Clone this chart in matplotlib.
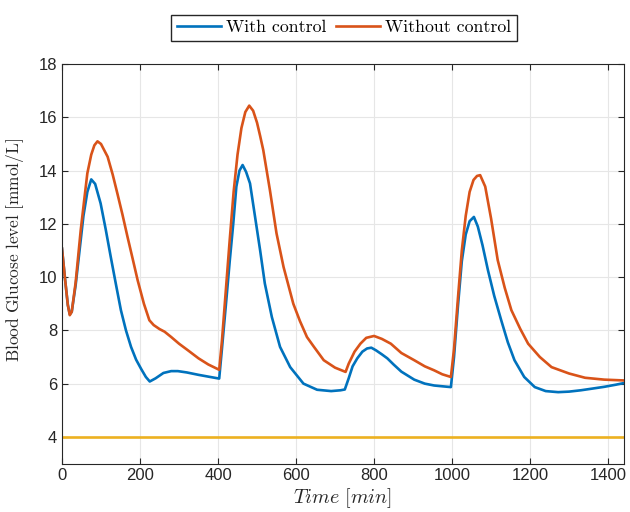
import matplotlib
matplotlib.use("Agg")
import matplotlib.pyplot as plt

plt.rcParams['mathtext.fontset'] = 'cm'
plt.rcParams['font.family'] = ['Liberation Sans', 'DejaVu Sans']
plt.rcParams['font.serif'] = ['cmr10']

# time [min] and glucose [mmol/L]
t_ctrl = [0, 8, 15, 20, 25, 35, 45, 55, 65, 75, 85, 99, 112, 125, 138, 151, 164,
          177, 190, 203, 215, 225, 240, 260, 280, 297, 320, 350, 380, 403,
          410, 422, 430, 439, 447, 455, 463, 472, 482, 495, 508, 520, 538, 559,
          585, 619, 654, 690, 714, 725,
          735, 745, 757, 770, 782, 793, 805, 820, 834, 850, 870, 903, 930, 954,
          975, 997,
          1005, 1015, 1025, 1035, 1045, 1056, 1066, 1078, 1092, 1108, 1126, 1143,
          1160, 1185, 1212, 1240, 1272, 1300, 1330, 1358, 1390, 1420, 1440]
g_ctrl = [11.07, 9.9, 8.95, 8.6, 8.7, 9.7, 11.0, 12.3, 13.2, 13.67, 13.5, 12.77,
          11.8, 10.76, 9.75, 8.76, 8.0, 7.38, 6.9, 6.55, 6.25, 6.08, 6.2, 6.4,
          6.47, 6.47, 6.42, 6.33, 6.25, 6.19,
          7.3, 9.26, 10.6, 12.0, 13.4, 14.0, 14.21, 13.95, 13.52, 12.26, 11.0,
          9.76, 8.5, 7.38, 6.62, 6.0, 5.77, 5.72, 5.75, 5.78,
          6.2, 6.65, 6.95, 7.2, 7.32, 7.35, 7.25, 7.1, 6.95, 6.72, 6.45, 6.15,
          6.0, 5.93, 5.9, 5.87,
          7.0, 8.9, 10.6, 11.6, 12.1, 12.26, 11.9, 11.2, 10.26, 9.3, 8.38, 7.55,
          6.88, 6.25, 5.87, 5.72, 5.68, 5.7, 5.75, 5.81, 5.88, 5.96, 6.02]

t_open = [0, 8, 15, 20, 25, 35, 48, 57, 65, 75, 83, 91, 100, 117, 130, 142, 155,
          168, 181, 194, 210, 224, 235, 250, 263, 280, 300, 323, 350, 375, 403,
          410, 420, 430, 440, 450, 460, 470, 480, 490, 500, 508, 516, 533, 550,
          568, 593, 610, 628, 645, 671, 700, 727,
          735, 750, 765, 780, 800, 820, 843, 870, 903, 930, 954, 975, 997,
          1005, 1015, 1025, 1035, 1045, 1055, 1064, 1072, 1085, 1100, 1117, 1135,
          1152, 1175, 1195, 1225, 1255, 1300, 1341, 1390, 1440]
g_open = [11.07, 9.9, 8.95, 8.57, 8.7, 9.8, 11.76, 12.9, 13.9, 14.6, 14.95, 15.1,
          15.0, 14.52, 13.85, 13.14, 12.35, 11.51, 10.7, 9.88, 9.0, 8.38, 8.2,
          8.05, 7.95, 7.75, 7.5, 7.25, 6.95, 6.72, 6.52,
          7.6, 9.5, 11.4, 13.2, 14.6, 15.6, 16.2, 16.44, 16.25, 15.8, 15.3, 14.77,
          13.27, 11.64, 10.38, 9.0, 8.35, 7.75, 7.4, 6.88, 6.6, 6.44,
          6.75, 7.2, 7.5, 7.72, 7.79, 7.68, 7.5, 7.15, 6.88, 6.65, 6.5, 6.35, 6.25,
          7.3, 9.2, 11.0, 12.3, 13.2, 13.65, 13.8, 13.83, 13.4, 12.2, 10.64, 9.6,
          8.76, 8.05, 7.5, 7.0, 6.62, 6.38, 6.22, 6.15, 6.12]

t_limit = [0, 1440]
g_limit = [4, 4]

fig = plt.figure(figsize=(6.3, 5.12), dpi=100)
ax = fig.add_axes([0.0984, 0.0947, 0.8916, 0.7801])

l1, = ax.plot(t_ctrl, g_ctrl, color='#0072BD', lw=1.9, label='With control')
l2, = ax.plot(t_open, g_open, color='#D95319', lw=1.9, label='Without control')
ax.plot(t_limit, g_limit, color='#EDB120', lw=1.9)

ax.set_xlim(0, 1440)
ax.set_ylim(3, 18)
ax.set_xticks(range(0, 1401, 200))
ax.set_yticks(range(4, 19, 2))
ax.grid(True, color='#e6e6e6', lw=0.8)
ax.set_axisbelow(True)
ax.tick_params(direction='in', top=True, right=True, labelsize=12,
               colors='#262626', length=4)
for s in ax.spines.values():
    s.set_color('#262626')
    s.set_linewidth(0.8)

ax.set_xlabel(r'$Time\ [min]$', fontsize=14.5, color='#262626', labelpad=2)
ax.set_ylabel(r'$\mathrm{Blood\ Glucose\ level\ [mmol/L]}$', fontsize=12.5,
              color='#262626', va='center')
ax.yaxis.set_label_coords(-0.083, 0.535)

fig.legend(handles=[l1, l2], loc='center', bbox_to_anchor=(0.546, 0.946),
           ncol=2, fancybox=False, edgecolor='#262626', framealpha=1,
           prop={'family': 'serif', 'size': 12.8}, handlelength=2.5,
           columnspacing=0.5, handletextpad=0.3, borderpad=0.3)

fig.savefig('out.png', dpi=100)
